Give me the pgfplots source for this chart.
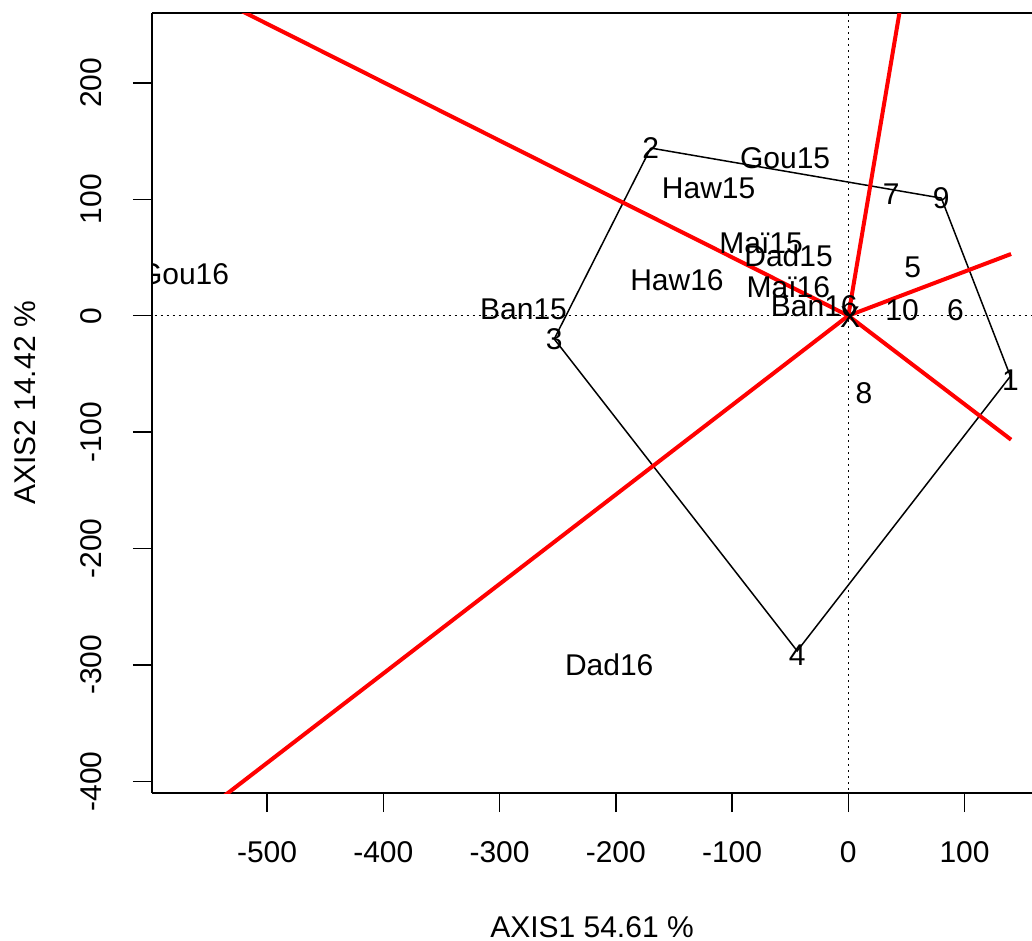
\documentclass[border=0pt]{standalone}
\usepackage{fontspec}
\setmainfont{Liberation Sans}
\usepackage{pgfplots}
\pgfplotsset{compat=1.18}
\newcommand{\fs}{\fontsize{15}{18}\selectfont}
\begin{document}
\begin{tikzpicture}
\begin{axis}[
  scale only axis, width=440pt, height=390pt,
  xmin=-599, xmax=158, ymin=-410, ymax=260,
  axis x line*=box, axis y line*=left,
  axis line style={line width=0.8pt},
  xtick={-500,-400,...,100}, ytick={-400,-300,...,200},
  xtick pos=bottom, ytick pos=left,
  tick align=outside, major tick length=9.5pt,
  tick style={black, line width=0.75pt},
  /pgf/number format/assume math mode=true,
  ticklabel style={font=\fs},
  xticklabel shift=11pt,
  yticklabel shift=12pt,
  yticklabel style={rotate=90, anchor=south},
  xlabel={AXIS1 54.61 \%}, ylabel={AXIS2 14.42 \%},
  label style={font=\fs},
  xlabel style={at={(axis description cs:0.5,-0.172)}, anchor=center},
  ylabel style={at={(axis description cs:-0.1443,0.5)}, anchor=center},
  clip marker paths=true,
]
% reference lines through origin
\addplot[black, line width=0.8pt, dash pattern=on 1pt off 2pt] coordinates {(-700,0) (200,0)};
\addplot[black, line width=0.8pt, dash pattern=on 1pt off 2pt] coordinates {(0,-500) (0,300)};
% polygon
\addplot[black, line width=0.75pt] coordinates {
 (-170,144) (80,101) (139.4,-52) (-44,-288) (-253,-20) (-170,144)};
% rays
\addplot[red, line width=2pt] coordinates {(0,0) (-700,351)};
\addplot[red, line width=2pt] coordinates {(0,0) (140,-106.5)};
\addplot[red, line width=2pt] coordinates {(0,0) (60,355)};
\addplot[red, line width=2pt] coordinates {(0,0) (140,53)};
\addplot[red, line width=2pt] coordinates {(0,0) (-600,-461)};
% labels
\addplot[draw=none, mark=none, nodes near coords, point meta=explicit symbolic,
  every node near coord/.style={anchor=center, inner sep=0pt, font=\fs, black}]
 table[meta=label] {
x y label
-170 144 2
80 101 9
36.8 104 7
55.4 41.8 5
46.2 4.6 10
92.1 4.6 6
13.5 -66.4 8
139.4 -55.6 1
-44 -292 4
-253 -20.6 3
1.5 -1.5 X
-54.4 135.5 Gou15
-120.2 109.1 Haw15
-75.1 61.9 Maï15
-51.4 51.8 Dad15
-147.4 30.3 Haw16
-51.6 24.6 Maï16
-29.3 8 Ban16
-279.4 5.2 Ban15
-571.4 36 Gou16
-205.7 -299.8 Dad16
};
\end{axis}
\pgfresetboundingbox
\path ([xshift=-76pt,yshift=-74pt]current axis.south west) rectangle ([xshift=440pt,yshift=396.5pt]current axis.south west);
\end{tikzpicture}
\end{document}
